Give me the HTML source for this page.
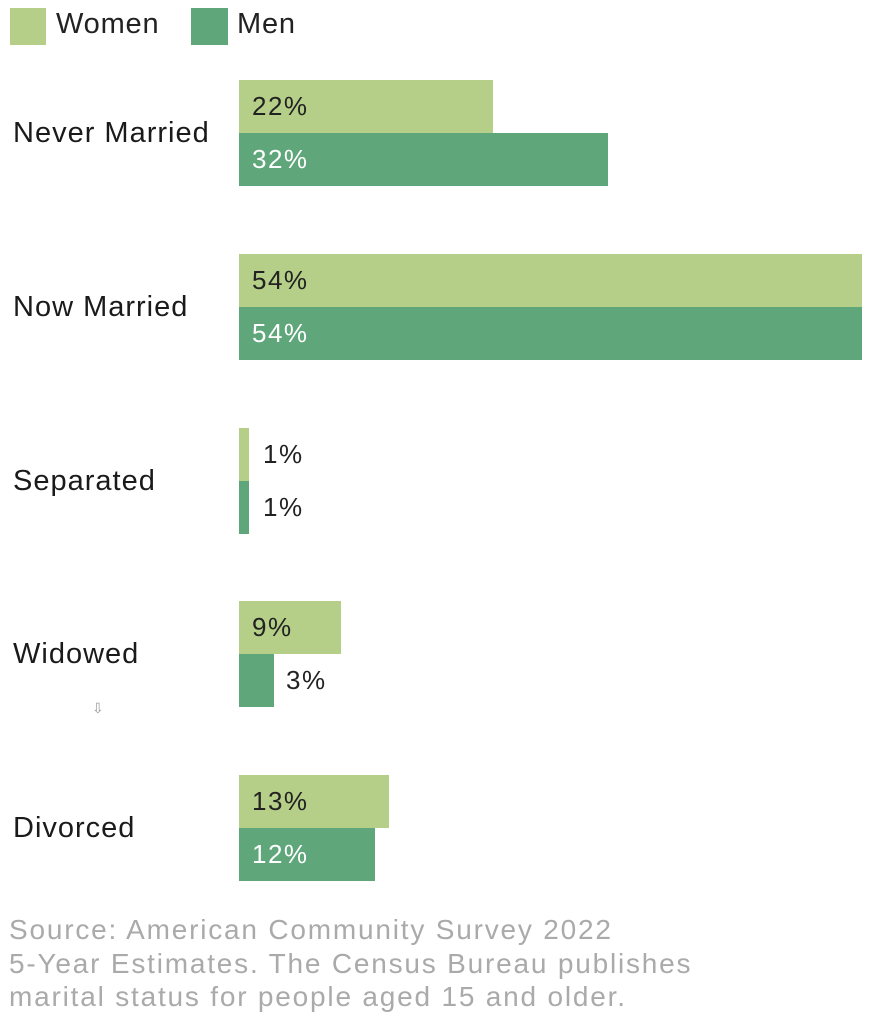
<!DOCTYPE html>
<html><head><style>
body{margin:0;width:882px;height:1024px;background:#fff;position:relative;font-family:"Liberation Sans",sans-serif;overflow:hidden}
.a{position:absolute;white-space:nowrap}
.w{background:#b6cf88}.m{background:#5fa67b}
.lg{font-size:29px;color:#222;line-height:40px;letter-spacing:0.8px}
.cat{font-size:29px;color:#1a1a1a;left:13px;line-height:40px;letter-spacing:1px}
.v{font-size:26px;line-height:53px;color:#222;letter-spacing:1.5px}
.vm{color:#fff}
.src{left:9px;top:913px;font-size:28px;line-height:33.5px;color:#aaa;letter-spacing:1.8px}
</style></head><body>
<div class="a w" style="left:10px;top:8px;width:36px;height:37px"></div>
<div class="a lg" style="left:56px;top:4px">Women</div>
<div class="a m" style="left:191px;top:8px;width:37px;height:37px"></div>
<div class="a lg" style="left:237px;top:4px">Men</div>

<div class="a cat" style="top:113px">Never Married</div>
<div class="a w" style="left:239px;top:80px;width:254px;height:53px"></div>
<div class="a m" style="left:239px;top:133px;width:369px;height:53px"></div>
<div class="a v" style="left:252px;top:80px">22%</div>
<div class="a v vm" style="left:252px;top:133px">32%</div>

<div class="a cat" style="top:287px">Now Married</div>
<div class="a w" style="left:239px;top:254px;width:623px;height:53px"></div>
<div class="a m" style="left:239px;top:307px;width:623px;height:53px"></div>
<div class="a v" style="left:252px;top:254px">54%</div>
<div class="a v vm" style="left:252px;top:307px">54%</div>

<div class="a cat" style="top:461px">Separated</div>
<div class="a w" style="left:239px;top:428px;width:10px;height:53px"></div>
<div class="a m" style="left:239px;top:481px;width:10px;height:53px"></div>
<div class="a v" style="left:263px;top:428px">1%</div>
<div class="a v" style="left:263px;top:481px">1%</div>

<div class="a cat" style="top:634px">Widowed</div>
<div class="a w" style="left:239px;top:601px;width:102px;height:53px"></div>
<div class="a m" style="left:239px;top:654px;width:35px;height:53px"></div>
<div class="a v" style="left:252px;top:601px">9%</div>
<div class="a v" style="left:286px;top:654px">3%</div>
<div class="a" style="left:92px;top:700px;font-size:14px;color:#999">⇩</div>

<div class="a cat" style="top:808px">Divorced</div>
<div class="a w" style="left:239px;top:775px;width:150px;height:53px"></div>
<div class="a m" style="left:239px;top:828px;width:136px;height:53px"></div>
<div class="a v" style="left:252px;top:775px">13%</div>
<div class="a v vm" style="left:252px;top:828px">12%</div>

<div class="a src">Source: American Community Survey 2022<br>5-Year Estimates. The Census Bureau publishes<br>marital status for people aged 15 and older.</div>
</body></html>
